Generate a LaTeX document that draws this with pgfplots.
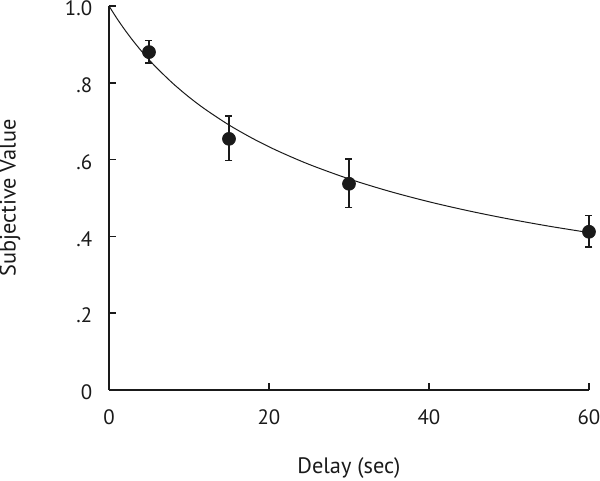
\documentclass[border=0pt]{standalone}
\usepackage{pgfplots}
\pgfplotsset{compat=1.18}
\usepackage{fontspec}
\setmainfont{PT Sans}
\definecolor{ink}{HTML}{1A1A1A}
\begin{document}
\begin{tikzpicture}
\path[use as bounding box] (-65.4pt,-54.6pt) rectangle (294.6pt,234pt);
\begin{axis}[
    at={(0,0)}, anchor=origin,
    scale only axis,
    width=288pt, height=230.4pt,
    xmin=0, xmax=60, ymin=0, ymax=1,
    axis lines*=left,
    axis line style={ink, line width=0.9pt},
    tick align=inside,
    major tick length=4.2pt,
    tick style={ink, line width=0.9pt},
    xtick={0,20,40,60},
    xticklabels={0,20,40,60},
    ytick={0,0.2,0.4,0.6,0.8,1},
    yticklabels={0,.2,.4,.6,.8,1.0},
    ticklabel style={font=\fontsize{12.5}{14}\selectfont, text=ink},
    xticklabel style={anchor=center, yshift=-16.2pt},
    yticklabel style={anchor=east, xshift=-6.6pt, yshift=-1.5pt},
    xlabel={Delay (sec)},
    ylabel={Subjective Value},
    label style={font=\fontsize{13.4}{15}\selectfont, text=ink},
    xlabel style={at={(axis description cs:0.5,-0.203)}, anchor=center},
    ylabel style={at={(axis description cs:-0.206,0.5)}, anchor=center},
    clip=false,
]
% fitted curve
\addplot[ink, line width=0.6pt, smooth] coordinates {
(0,1.0) (1,0.9673) (2,0.9373) (3,0.9096) (4,0.8840) (5,0.8603) (6,0.8381)
(8,0.7981) (10,0.7628) (12,0.7314) (15,0.6901) (18,0.6546) (21,0.6235)
(25,0.5876) (30,0.5497) (35,0.5177) (40,0.4902) (45,0.4663) (50,0.4453)
(55,0.4266) (60,0.4099)};
% data with error bars
\addplot[ink, only marks, mark=*, mark size=3.9pt, mark options={fill=ink, draw=ink},
    error bars/.cd, y dir=both, y explicit,
    error bar style={ink, line width=0.9pt},
    error mark options={rotate=90, mark size=2.1pt, line width=0.9pt, ink}]
coordinates {
(5,0.880) += (0,0.030) -= (0,0.029)
(15,0.654) += (0,0.060) -= (0,0.057)
(30,0.537) += (0,0.065) -= (0,0.062)
(60,0.412) += (0,0.043) -= (0,0.039)
};
\end{axis}
\end{tikzpicture}
\end{document}
